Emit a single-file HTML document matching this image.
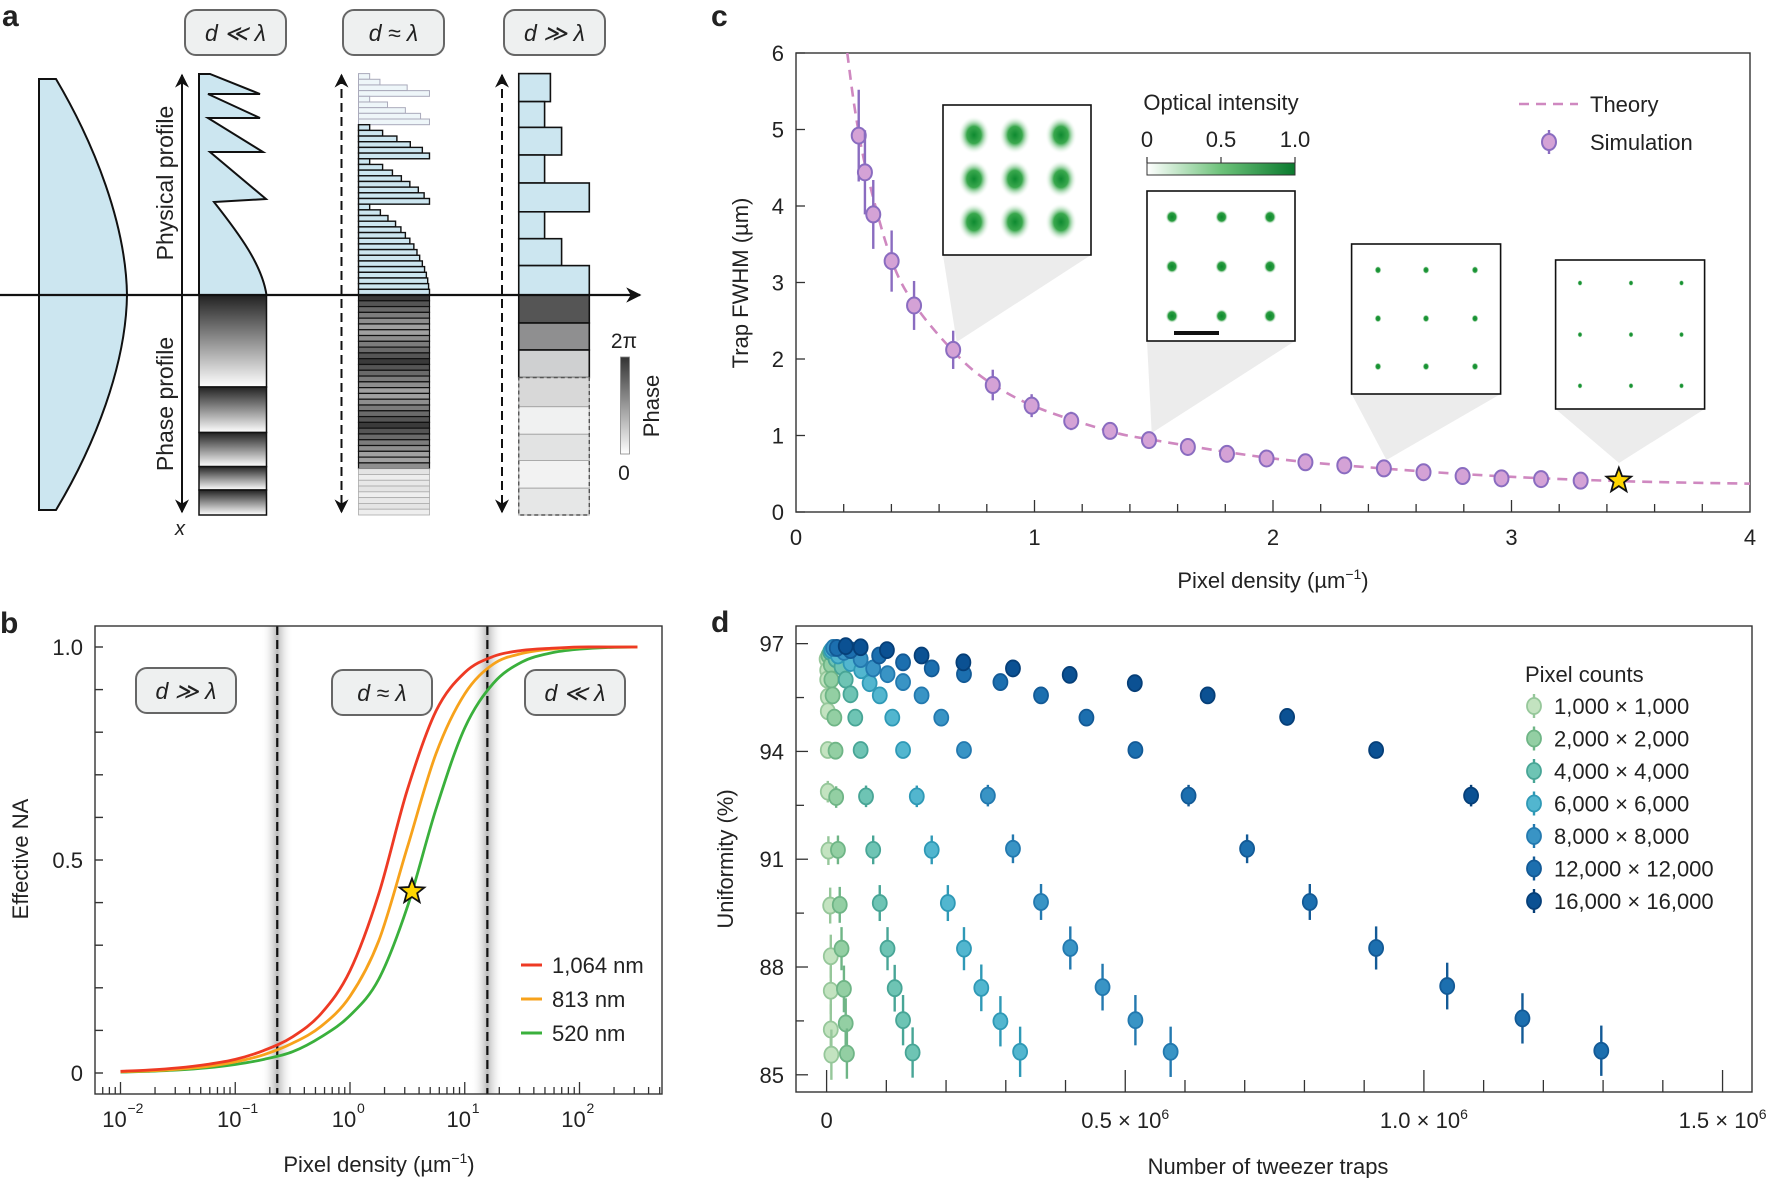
<!DOCTYPE html>
<html><head><meta charset="utf-8">
<style>
html,body{margin:0;padding:0;background:#fff;}
svg{display:block;font-family:"Liberation Sans",sans-serif;}
text{fill:#222;}
</style></head>
<body>
<svg id="fig" width="1773" height="1178" viewBox="0 0 1773 1178" xmlns="http://www.w3.org/2000/svg">
<defs>
  <linearGradient id="gdark" x1="0" y1="0" x2="0" y2="1"><stop offset="0" stop-color="#222"/><stop offset="1" stop-color="#fff"/></linearGradient>
  <linearGradient id="gphase" x1="0" y1="1" x2="0" y2="0"><stop offset="0" stop-color="#fff"/><stop offset="1" stop-color="#333"/></linearGradient>
  <linearGradient id="gint" x1="0" y1="0" x2="1" y2="0"><stop offset="0" stop-color="#fff"/><stop offset="0.5" stop-color="#6dc27a"/><stop offset="1" stop-color="#0a7a2e"/></linearGradient>
  <linearGradient id="gshade" x1="0" y1="0" x2="1" y2="0"><stop offset="0" stop-color="#fff" stop-opacity="0"/><stop offset="0.5" stop-color="#bbb"/><stop offset="1" stop-color="#fff" stop-opacity="0"/></linearGradient>
  <radialGradient id="blob"><stop offset="0" stop-color="#0e8a30"/><stop offset="0.45" stop-color="#3aa84e"/><stop offset="1" stop-color="#ffffff" stop-opacity="0"/></radialGradient>
  <radialGradient id="dot"><stop offset="0" stop-color="#0b8a2c"/><stop offset="0.6" stop-color="#2a9c40"/><stop offset="1" stop-color="#fff" stop-opacity="0"/></radialGradient>
  <marker id="arr" viewBox="0 0 10 10" refX="9" refY="5" markerWidth="7" markerHeight="7" orient="auto-start-reverse"><path d="M0,0 L10,5 L0,10 L3,5 Z" fill="#111"/></marker>
</defs>

<!-- ===== Panel a ===== -->
<g id="panel-a">
  <text x="2" y="26" font-size="30" font-weight="bold">a</text>
  <g>
    <rect x="185" y="10" width="101" height="45" rx="11" fill="#eef0f0" stroke="#666" stroke-width="2"/>
    <text x="235.5" y="41" font-size="23" text-anchor="middle" font-style="italic">d ≪ λ</text>
  </g>
  <g>
    <rect x="343" y="10" width="101" height="45" rx="11" fill="#eef0f0" stroke="#666" stroke-width="2"/>
    <text x="393.5" y="41" font-size="23" text-anchor="middle" font-style="italic">d ≈ λ</text>
  </g>
  <g>
    <rect x="504" y="10" width="101" height="45" rx="11" fill="#eef0f0" stroke="#666" stroke-width="2"/>
    <text x="554.5" y="41" font-size="23" text-anchor="middle" font-style="italic">d ≫ λ</text>
  </g>
  <path d="M39,79 L56,79 C95,145 126,225 127,295 C126,365 95,445 56,510 L39,510 Z" fill="#cce6f0" stroke="#111" stroke-width="2"/>
  <path d="M199,74 L210,74 L260,94 L208,94 L260,118 L208,118 L263,152 L210,152 L266,199 L214,202 C240,235 262,265 266.5,295 L199,295 Z" fill="#cce6f0" stroke="#111" stroke-width="2"/>
  <g id="fresnel-phase"></g>
  <g id="mid-bars"></g>
  <g id="big-bars"></g>
  <line x1="0" y1="295" x2="640" y2="295" stroke="#111" stroke-width="2.2" marker-end="url(#arr)"/>
  <line x1="182" y1="75" x2="182" y2="512" stroke="#111" stroke-width="2" marker-start="url(#arr)" marker-end="url(#arr)"/>
  <line x1="341.5" y1="75" x2="341.5" y2="512" stroke="#111" stroke-width="2" stroke-dasharray="9,5" marker-start="url(#arr)" marker-end="url(#arr)"/>
  <line x1="502" y1="75" x2="502" y2="512" stroke="#111" stroke-width="2" stroke-dasharray="9,5" marker-start="url(#arr)" marker-end="url(#arr)"/>
  <text x="180" y="535" font-size="20" font-style="italic" text-anchor="middle">x</text>
  <text transform="translate(173,183) rotate(-90)" font-size="23" text-anchor="middle">Physical profile</text>
  <text transform="translate(173,404) rotate(-90)" font-size="23" text-anchor="middle">Phase profile</text>
  <rect x="620.5" y="357" width="9" height="97" fill="url(#gphase)" stroke="#888" stroke-width="0.8"/>
  <text x="624" y="348" font-size="21" text-anchor="middle">2π</text>
  <text x="624" y="480" font-size="21" text-anchor="middle">0</text>
  <text transform="translate(659,406) rotate(-90)" font-size="22" text-anchor="middle">Phase</text>
</g>

<!-- ===== Panel b ===== -->
<g id="panel-b">
  <text x="0" y="633" font-size="30" font-weight="bold">b</text>
  <g id="b-shade"></g>
  <g id="b-axes"></g>
  <g id="b-lines"></g>
</g>

<!-- ===== Panel c ===== -->
<g id="panel-c">
  <text x="711" y="26" font-size="30" font-weight="bold">c</text>
  <g id="c-insets"></g>
  <g id="c-axes"></g>
  <g id="c-marks"></g>
</g>

<!-- ===== Panel d ===== -->
<g id="panel-d">
  <text x="711" y="632" font-size="30" font-weight="bold">d</text>
  <g id="d-axes"></g>
  <g id="d-marks"></g>
</g>
</svg>

<script>
// ---------------- Panel b data ----------------
const bLogX = [-2,-1.75,-1.5,-1.25,-1,-0.75,-0.5,-0.25,0,0.25,0.5,0.75,1,1.25,1.5,1.75,2,2.25,2.505];
const bRed = [0.004,0.007,0.012,0.02,0.032,0.053,0.085,0.14,0.24,0.42,0.665,0.85,0.94,0.978,0.992,0.997,1.0,1.0,1.0];
const bOrange = [0.003,0.005,0.009,0.015,0.026,0.043,0.07,0.11,0.18,0.31,0.53,0.75,0.89,0.96,0.985,0.995,0.999,1.0,1.0];
const bGreen = [0.002,0.004,0.007,0.012,0.02,0.032,0.05,0.085,0.135,0.22,0.39,0.62,0.81,0.915,0.965,0.986,0.995,0.999,1.0];
const bTickLabels = ["0", "0.5", "1.0"];
const bTickValues = [0, 0.5, 1.0];
const bDecades = [-2, -1, 0, 1, 2];
const bDividers = [-0.634, 1.197];
const bStar = [0.54, 0.426];

// ---------------- Panel c data ----------------
const cX = [0.263,0.289,0.324,0.401,0.495,0.659,0.825,0.988,1.154,1.317,1.480,1.643,1.807,1.973,2.136,2.299,2.465,2.631,2.795,2.958,3.124,3.290];
const cY = [4.92,4.44,3.89,3.28,2.70,2.12,1.66,1.39,1.19,1.06,0.94,0.85,0.76,0.70,0.65,0.61,0.57,0.52,0.47,0.44,0.43,0.41];
const cErr = [0.6,0.55,0.45,0.4,0.32,0.25,0.2,0.15,0.12,0.1,0.08,0.07,0.06,0.05,0.05,0.05,0.04,0.04,0.04,0.04,0.04,0.04];
const cTheoryX = [0.215,0.25,0.3,0.4,0.5,0.66,0.8,1,1.3,1.5,2,2.5,3,3.5,4];
const cTheoryY = [6,5.2,4.4,3.3,2.7,2.1,1.72,1.38,1.07,0.94,0.70,0.56,0.46,0.40,0.37];
const cStar = [3.45, 0.41];
const cXTicks = ["0","1","2","3","4"];
const cYTicks = ["0","1","2","3","4","5","6"];

// ---------------- Panel d data ----------------
const dNames = ["1,000 × 1,000","2,000 × 2,000","4,000 × 4,000","6,000 × 6,000","8,000 × 8,000","12,000 × 12,000","16,000 × 16,000"];
const d1kX = [0,.001,.001,.002,.002,.002,.002,.003,.006,.007,.007,.007,.008];
const d1kY = [96.57,96.26,96.00,95.52,95.12,94.04,92.88,91.24,89.71,88.30,87.34,86.26,85.56];
const d1kE = [.1,.1,.1,.15,.15,.2,.3,.4,.5,.6,.65,.7,.7];
const d2kX = [.003,.007,.008,.010,.013,.015,.016,.019,.022,.025,.029,.032,.034];
const d2kY = [96.67,96.41,96.00,95.56,94.94,94.02,92.73,91.26,89.73,88.51,87.39,86.43,85.59];
const d2kE = [.1,.1,.1,.15,.15,.2,.3,.4,.5,.6,.65,.7,.7];
const d4kX = [.006,.015,.025,.032,.040,.048,.057,.066,.078,.089,.102,.114,.128,.144];
const d4kY = [96.77,96.57,96.36,96.00,95.59,94.94,94.04,92.75,91.26,89.78,88.51,87.41,86.52,85.62];
const d4kE = [.08,.1,.1,.1,.15,.15,.2,.3,.4,.5,.6,.65,.7,.7];
const d6kX = [.008,.019,.040,.058,.072,.089,.110,.128,.151,.176,.203,.230,.259,.291,.324];
const d6kY = [96.82,96.67,96.46,96.26,95.90,95.56,94.94,94.04,92.75,91.26,89.78,88.51,87.42,86.49,85.64];
const d6kE = [.08,.08,.1,.1,.1,.15,.15,.2,.3,.4,.5,.6,.65,.7,.7];
const d8kX = [.011,.029,.057,.078,.102,.128,.159,.192,.230,.270,.312,.359,.408,.462,.517,.576];
const d8kY = [96.88,96.77,96.57,96.31,96.15,95.93,95.56,94.94,94.04,92.77,91.29,89.81,88.53,87.44,86.52,85.64];
const d8kE = [.08,.08,.08,.1,.1,.1,.15,.15,.2,.3,.4,.5,.6,.65,.7,.7];
const d12kX = [.017,.040,.088,.128,.176,.230,.291,.359,.435,.517,.606,.704,.809,.920,1.039,1.165,1.297];
const d12kY = [96.88,96.82,96.67,96.48,96.31,96.15,95.93,95.56,94.94,94.04,92.77,91.29,89.81,88.53,87.47,86.57,85.67];
const d12kE = [.08,.08,.08,.1,.1,.1,.1,.15,.15,.2,.3,.4,.5,.6,.65,.7,.7];
const d16kX = [.032,.057,.101,.159,.229,.312,.407,.516,.638,.771,.920,1.079];
const d16kY = [96.93,96.90,96.82,96.67,96.48,96.31,96.13,95.90,95.56,94.96,94.04,92.77];
const d16kE = [.08,.08,.08,.08,.1,.1,.1,.1,.15,.15,.2,.3];
const dYTicks = [97, 94, 91, 88, 85];
const dXTickVals = [0, 0.5, 1.0, 1.5];
const dXTickText = ["0", "0.5 × 10", "1.0 × 10", "1.5 × 10"];

const NS = "http://www.w3.org/2000/svg";
function mk(tag, attrs, parent) {
  const e = document.createElementNS(NS, tag);
  for (const k in attrs) e.setAttribute(k, attrs[k]);
  if (parent) parent.appendChild(e);
  return e;
}
function smoothPath(pts) {
  let d = "M" + pts[0][0].toFixed(2) + "," + pts[0][1].toFixed(2);
  for (let i = 0; i < pts.length - 1; i++) {
    const p0 = pts[Math.max(0, i - 1)], p1 = pts[i], p2 = pts[i + 1], p3 = pts[Math.min(pts.length - 1, i + 2)];
    const c1 = [p1[0] + (p2[0] - p0[0]) / 6, p1[1] + (p2[1] - p0[1]) / 6];
    const c2 = [p2[0] - (p3[0] - p1[0]) / 6, p2[1] - (p3[1] - p1[1]) / 6];
    d += " C" + c1.map(v=>v.toFixed(2)).join(",") + " " + c2.map(v=>v.toFixed(2)).join(",") + " " + p2.map(v=>v.toFixed(2)).join(",");
  }
  return d;
}
function starPath(cx, cy, R, r) {
  let d = "";
  for (let i = 0; i < 10; i++) {
    const a = -Math.PI / 2 + i * Math.PI / 5, rr = i % 2 ? r : R;
    d += (i ? "L" : "M") + (cx + rr * Math.cos(a)).toFixed(2) + "," + (cy + rr * Math.sin(a)).toFixed(2);
  }
  return d + "Z";
}

// ================= Panel a (diagram) =================
(function () {
  const fp = document.getElementById("fresnel-phase");
  const bounds = [295, 387, 432.5, 466.6, 490, 515];
  for (let i = 0; i < bounds.length - 1; i++) {
    const r = mk("rect", {x: 199, y: bounds[i], width: 67.5, height: bounds[i + 1] - bounds[i], fill: "url(#gdark)", stroke: "#111", "stroke-width": 1.5}, fp);
    
    
  }
  const mb = document.getElementById("mid-bars");
  const ends = [828,851,912,962,828,868,908,942,962, 828,857,889,919,946,962, 828,857,879,899,918,937,950,962, 828,852,869,886,898,908,918,927,934,940,946,951,955,958,960,962];
  const h = (295 - 73.6) / ends.length;
  ends.forEach((e, i) => {
    const faded = i < 9;
    const r = mk("rect", {x: 358.5, y: 73.6 + i * h, width: (e - 803) / 2.24, height: h,
      fill: faded ? "#eef6f9" : "#cce6f0", stroke: faded ? "#aab" : "#111", "stroke-width": faded ? 1 : 1.4}, mb);
    
    
  });
  const grays = ["#3a3a3a","#555","#6a6a6a","#7c7c7c","#8e8e8e","#a0a0a0"];
  const n2 = 38, h2 = (515 - 295) / n2;
  for (let i = 0; i < n2; i++) {
    const faded = i >= 30;
    const g = faded ? ["#e4e4e4","#eeeeee","#e8e8e8"][i % 3] : grays[(i % 11) < 6 ? (i % 11) % 6 : 5 - ((i % 11) - 6)];
    const r = mk("rect", {x: 358.5, y: 295 + i * h2, width: 71, height: h2, fill: g, stroke: faded ? "#aaa" : "#111", "stroke-width": faded ? 0.8 : 1.2}, mb);
    
    
  }
  const bb = document.getElementById("big-bars");
  const yb = [73.6,101.6,127.4,155,183,211.8,238.7,265.6,295];
  const xe = [550.4,544.6,561.6,544.6,589.3,544.6,561.6,589.3];
  for (let i = 0; i < xe.length; i++) {
    const r = mk("rect", {x: 518.75, y: yb[i], width: xe[i] - 518.75, height: yb[i+1] - yb[i], fill: "#cce6f0", stroke: "#111", "stroke-width": 1.6}, bb);
    
    
  }
  const yp = [295,323,350,377.6,406.7,434.3,460.5,488.2,515];
  const pc = ["#555","#8f8f90","#cfd0d1","#d8d8d8","#f0f1f1","#e2e3e3","#f2f2f2","#e6e7e7"];
  for (let i = 0; i < pc.length; i++) {
    const faded = i >= 3;
    const r = mk("rect", {x: 518.75, y: yp[i], width: 70.55, height: yp[i+1] - yp[i], fill: pc[i], stroke: faded ? "#aaa" : "#111", "stroke-width": faded ? 1 : 1.6}, bb);
    
    
  }
  const dash = mk("rect", {x: 518.75, y: 377.6, width: 70.55, height: 137.4, fill: "none", stroke: "#555", "stroke-width": 1.4, "stroke-dasharray": "4,3"}, bb);
  
  
})();

// ================= Panel b =================
(function () {
  const L = 95, R = 662, T = 626, B = 1094;
  const bx = lg => 120.5 + (lg + 2) * 114.75;
  const by = v => 1073 - v * 426;
  const sh = document.getElementById("b-shade"), ax = document.getElementById("b-axes"), ln = document.getElementById("b-lines");
  bDividers.forEach(lg => {
    const s = mk("rect", {x: bx(lg) - 16, y: T, width: 32, height: B - T, fill: "url(#gshade)"}, sh);
    
    
    const l = mk("line", {x1: bx(lg), y1: T, x2: bx(lg), y2: B, stroke: "#111", "stroke-width": 2.2, "stroke-dasharray": "9,5"}, sh);
    
    
  });
  const frame = mk("rect", {x: L, y: T, width: R - L, height: B - T, fill: "none", stroke: "#333", "stroke-width": 1.4}, ax);
  
  
  for (let k = 0; k <= 10; k++) {
    const t = mk("line", {x1: L, y1: by(k / 10), x2: L + 8, y2: by(k / 10), stroke: "#333", "stroke-width": 1.4}, ax);
    
    
  }
  bTickValues.forEach((v, i) => {
    const t = mk("text", {x: L - 12, y: by(v) + 8, "font-size": 22, "text-anchor": "end"}, ax);
    t.textContent = bTickLabels[i];
    
    
  });
  for (let dec = -3; dec <= 2; dec++) {
    for (let m = 1; m <= 9; m++) {
      const lg = dec + Math.log10(m);
      const xx = bx(lg);
      if (xx < L + 1 || xx > R - 1) continue;
      const t = mk("line", {x1: xx, y1: B, x2: xx, y2: B - (m === 1 ? 12 : 7), stroke: "#333", "stroke-width": 1.3}, ax);
      
      
    }
  }
  bDecades.forEach(dec => {
    const t = mk("text", {x: bx(dec) - 6, y: 1127, "font-size": 22, "text-anchor": "middle"}, ax);
    t.textContent = "10";
    
    
    const s = mk("text", {x: bx(dec) + 7, y: 1113, "font-size": 14}, ax);
    s.textContent = dec < 0 ? "−" + (-dec) : String(dec);
    
    
  });
  const xt = mk("text", {x: 379, y: 1172, "font-size": 22, "text-anchor": "middle"}, ax);
  xt.innerHTML = 'Pixel density (µm<tspan dy="-9" font-size="14">−1</tspan><tspan dy="9">)</tspan>';
  
  
  const yt = mk("text", {transform: "translate(28,859) rotate(-90)", "font-size": 22, "text-anchor": "middle"}, ax);
  yt.textContent = "Effective NA";
  
  
  const boxes = [[136, 668, "d ≫ λ"], [332, 670, "d ≈ λ"], [525, 670, "d ≪ λ"]];
  boxes.forEach(b => {
    const g = mk("g", {}, ax);
    
    
    mk("rect", {x: b[0], y: b[1], width: 100, height: 45, rx: 11, fill: "#eef0f0", stroke: "#666", "stroke-width": 2}, g);
    const t = mk("text", {x: b[0] + 50, y: b[1] + 31, "font-size": 23, "text-anchor": "middle", "font-style": "italic"}, g);
    t.textContent = b[2];
  });
  const series = [[bGreen, "#3ab03c", "520 nm"], [bOrange, "#f7a21b", "813 nm"], [bRed, "#ee3a24", "1,064 nm"]];
  series.forEach(s => {
    const p = mk("path", {d: smoothPath(bLogX.map((lg, i) => [bx(lg), by(s[0][i])])), fill: "none", stroke: s[1], "stroke-width": 2.8}, ln);
    
    
  });
  const legend = [[bRed, "#ee3a24", "1,064 nm", 965], [bOrange, "#f7a21b", "813 nm", 999], [bGreen, "#3ab03c", "520 nm", 1033]];
  legend.forEach(l => {
    const g = mk("g", {}, ln);
    
    
    mk("line", {x1: 521, y1: l[3], x2: 542, y2: l[3], stroke: l[1], "stroke-width": 3}, g);
    const t = mk("text", {x: 552, y: l[3] + 8, "font-size": 22}, g);
    t.textContent = l[2];
  });
  const st = mk("path", {d: starPath(bx(bStar[0]), by(bStar[1]), 13, 5.5), fill: "#ffd600", stroke: "#111", "stroke-width": 1.8}, ln);
  
  
})();

// ================= Panel c =================
(function () {
  const L = 796, R = 1750, T = 53, B = 512;
  const cx = v => L + v * 238.5;
  const cy = v => B - v * 76.5;
  const ins = document.getElementById("c-insets"), ax = document.getElementById("c-axes"), mg = document.getElementById("c-marks");
  const insets = [
    {x: 943, y: 105, w: 148, h: 150, tip: [956.7, 342], xs: [974, 1015, 1061], ys: [135, 179, 222], rx: 16, ry: 19, fill: "url(#blob)"},
    {x: 1147, y: 191, w: 148, h: 150, tip: [1151.7, 433], xs: [1172, 1221.6, 1270], ys: [217, 266.5, 316], rx: 6.5, ry: 7, fill: "url(#dot)"},
    {x: 1351.6, y: 244, w: 149, h: 150, tip: [1386.5, 460], xs: [1378, 1426, 1475], ys: [270, 318.5, 366.5], rx: 3.5, ry: 4, fill: "url(#dot)"},
    {x: 1555.6, y: 260, w: 149, h: 149, tip: [1619, 463], xs: [1580, 1631, 1681.5], ys: [283, 334.6, 385.8], rx: 2.6, ry: 3, fill: "url(#dot)"}
  ];
  insets.forEach(s => {
    const tri = mk("polygon", {points: `${s.x},${s.y + s.h} ${s.x + s.w},${s.y + s.h} ${s.tip[0]},${s.tip[1]}`, fill: "#ececec"}, ins);
    
    
  });
  insets.forEach(s => {
    const g = mk("g", {}, ins);
    
    
    mk("rect", {x: s.x, y: s.y, width: s.w, height: s.h, fill: "#fff", stroke: "#111", "stroke-width": 1.6}, g);
    s.xs.forEach(px => s.ys.forEach(py => {
      mk("ellipse", {cx: px, cy: py, rx: s.rx, ry: s.ry, fill: s.fill}, g);
    }));
  });
  const sb = mk("line", {x1: 1174, y1: 333, x2: 1219, y2: 333, stroke: "#111", "stroke-width": 4}, ins);
  
  
  const ot = mk("text", {x: 1221, y: 110, "font-size": 22, "text-anchor": "middle"}, ins);
  ot.textContent = "Optical intensity";
  
  
  const cb = mk("rect", {x: 1147, y: 163, width: 148, height: 12, fill: "url(#gint)", stroke: "#333", "stroke-width": 1}, ins);
  
  
  [["0", 1147], ["0.5", 1221], ["1.0", 1295]].forEach(c => {
    const t = mk("text", {x: c[1], y: 147, "font-size": 22, "text-anchor": "middle"}, ins);
    t.textContent = c[0];
    
    
    mk("line", {x1: c[1], y1: 157, x2: c[1], y2: 163, stroke: "#333", "stroke-width": 1.2}, ins);
  });

  const frame = mk("rect", {x: L, y: T, width: R - L, height: B - T, fill: "none", stroke: "#333", "stroke-width": 1.4}, ax);
  
  
  for (let k = 1; k < 20; k++) {
    const t = mk("line", {x1: cx(k * 0.2), y1: B, x2: cx(k * 0.2), y2: B - (k % 5 === 0 ? 12 : 8), stroke: "#333", "stroke-width": 1.3}, ax);
    
    
  }
  cXTicks.forEach((lab, i) => {
    const t = mk("text", {x: cx(i), y: 545, "font-size": 22, "text-anchor": "middle"}, ax);
    t.textContent = lab;
    
    
  });
  cYTicks.forEach((lab, i) => {
    const tk = mk("line", {x1: L, y1: cy(i), x2: L + 9, y2: cy(i), stroke: "#333", "stroke-width": 1.3}, ax);
    
    
    const t = mk("text", {x: L - 12, y: cy(i) + 8, "font-size": 22, "text-anchor": "end"}, ax);
    t.textContent = lab;
    
    
  });
  const xt = mk("text", {x: 1273, y: 588, "font-size": 22, "text-anchor": "middle"}, ax);
  xt.innerHTML = 'Pixel density (µm<tspan dy="-9" font-size="14">−1</tspan><tspan dy="9">)</tspan>';
  
  
  const yt = mk("text", {transform: "translate(748,283) rotate(-90)", "font-size": 22, "text-anchor": "middle"}, ax);
  yt.textContent = "Trap FWHM (µm)";
  
  

  const th = mk("path", {d: smoothPath(cTheoryX.map((v, i) => [cx(v), cy(cTheoryY[i])])), fill: "none", stroke: "#cf88c0", "stroke-width": 2.6, "stroke-dasharray": "10,7"}, mg);
  
  
  cX.forEach((v, i) => {
    const g = mk("g", {}, mg);
    
    
    mk("line", {x1: cx(v), y1: cy(cY[i] - cErr[i]), x2: cx(v), y2: cy(cY[i] + cErr[i]), stroke: "#8a6cc0", "stroke-width": 2.4}, g);
    mk("ellipse", {cx: cx(v), cy: cy(cY[i]), rx: 7, ry: 8, fill: "#d4a2d6", stroke: "#8a6cc0", "stroke-width": 2}, g);
  });
  const st = mk("path", {d: starPath(cx(cStar[0]), cy(cStar[1]), 13, 5.5), fill: "#ffd600", stroke: "#111", "stroke-width": 1.8}, mg);
  
  
  const lg1 = mk("g", {}, mg);
  
  
  mk("line", {x1: 1519, y1: 104, x2: 1578, y2: 104, stroke: "#cf88c0", "stroke-width": 2.6, "stroke-dasharray": "10,7"}, lg1);
  const tt = mk("text", {x: 1590, y: 112, "font-size": 22}, lg1);
  tt.textContent = "Theory";
  const lg2 = mk("g", {}, mg);
  
  
  mk("line", {x1: 1549, y1: 130, x2: 1549, y2: 154, stroke: "#8a6cc0", "stroke-width": 2.4}, lg2);
  mk("ellipse", {cx: 1549, cy: 142, rx: 7, ry: 8, fill: "#d4a2d6", stroke: "#8a6cc0", "stroke-width": 2}, lg2);
  const ts = mk("text", {x: 1590, y: 150, "font-size": 22}, lg2);
  ts.textContent = "Simulation";
})();

// ================= Panel d =================
(function () {
  const L = 796, R = 1752, T = 626, B = 1092;
  const dx = v => 826.6 + v * 597.3;
  const dy = v => 1074.8 - (v - 85) * 35.93;
  const ax = document.getElementById("d-axes"), mg = document.getElementById("d-marks");
  const frame = mk("rect", {x: L, y: T, width: R - L, height: B - T, fill: "none", stroke: "#333", "stroke-width": 1.4}, ax);
  
  
  for (let k = 0; k <= 15; k++) {
    const t = mk("line", {x1: dx(k * 0.1), y1: B, x2: dx(k * 0.1), y2: B - (k % 5 === 0 ? 22 : 12), stroke: "#333", "stroke-width": 1.3}, ax);
    
    
  }
  dXTickVals.forEach((v, i) => {
    const t = mk("text", {x: dx(v), y: 1128, "font-size": 22, "text-anchor": "middle"}, ax);
    if (i === 0) t.textContent = dXTickText[i];
    else t.innerHTML = dXTickText[i] + '<tspan dy="-9" font-size="14">6</tspan>';
    
    
  });
  for (let k = 0; k <= 8; k++) {
    const v = 85 + k * 1.5;
    const t = mk("line", {x1: L, y1: dy(v), x2: L + (k % 2 === 0 ? 12 : 8), y2: dy(v), stroke: "#333", "stroke-width": 1.3}, ax);
    
    
  }
  dYTicks.forEach(v => {
    const t = mk("text", {x: 784, y: dy(v) + 8, "font-size": 22, "text-anchor": "end"}, ax);
    t.textContent = String(v);
    
    
  });
  const xt = mk("text", {x: 1268, y: 1174, "font-size": 22, "text-anchor": "middle"}, ax);
  xt.textContent = "Number of tweezer traps";
  
  
  const yt = mk("text", {transform: "translate(733,859) rotate(-90)", "font-size": 22, "text-anchor": "middle"}, ax);
  yt.textContent = "Uniformity (%)";
  
  

  const fills = ["#c3e3c0","#93cfa3","#6ec4b4","#52b6cf","#3994c5","#1c6faf","#0b5193"];
  const strokes = ["#96c79a","#6fb586","#48a596","#2f99b6","#2379af","#135a96","#063f78"];
  const X = [d1kX, d2kX, d4kX, d6kX, d8kX, d12kX, d16kX];
  const Y = [d1kY, d2kY, d4kY, d6kY, d8kY, d12kY, d16kY];
  const E = [d1kE, d2kE, d4kE, d6kE, d8kE, d12kE, d16kE];
  X.forEach((xs, s) => {
    const g = mk("g", {}, mg);
    
    
    xs.forEach((v, i) => {
      const e = mk("line", {x1: dx(v), y1: dy(Y[s][i] - E[s][i]), x2: dx(v), y2: dy(Y[s][i] + E[s][i]), stroke: strokes[s], "stroke-width": 2.4}, g);
      
      
      const p = mk("ellipse", {cx: dx(v), cy: dy(Y[s][i]), rx: 7, ry: 8, fill: fills[s], stroke: strokes[s], "stroke-width": 1.8}, g);
      
      
    });
  });
  const lt = mk("text", {x: 1525, y: 682, "font-size": 22}, mg);
  lt.textContent = "Pixel counts";
  
  
  dNames.forEach((nm, s) => {
    const y = 706 + s * 32.5;
    const g = mk("g", {}, mg);
    
    
    mk("line", {x1: 1534, y1: y - 12, x2: 1534, y2: y + 12, stroke: strokes[s], "stroke-width": 2.4}, g);
    mk("ellipse", {cx: 1534, cy: y, rx: 7, ry: 8, fill: fills[s], stroke: strokes[s], "stroke-width": 1.8}, g);
    const t = mk("text", {x: 1554, y: y + 8, "font-size": 22}, g);
    t.textContent = nm;
  });
})();
</script>
</body></html>
